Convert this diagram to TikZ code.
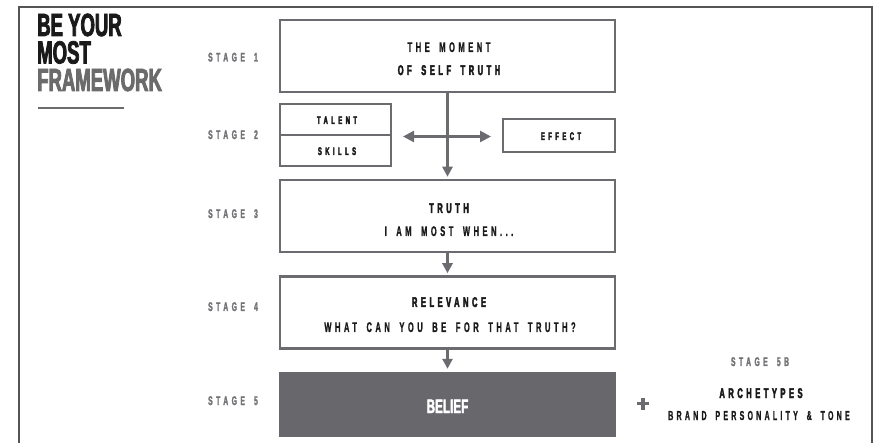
\documentclass[tikz,border=0pt]{standalone}
\usepackage{fontspec}
\usetikzlibrary{arrows.meta}
\setmainfont{Liberation Sans}
\newfontfamily\trk[FakeStretch=0.54,LetterSpace=25,WordSpace=1.7,FakeBold=1]{Liberation Sans}
\newfontfamily\trkh[FakeStretch=0.54,LetterSpace=25,WordSpace=1.7,FakeBold=3]{Liberation Sans}
\newfontfamily\trkw[FakeStretch=0.54,LetterSpace=31,WordSpace=1.7,FakeBold=3]{Liberation Sans}
\newfontfamily\stgf[FakeStretch=0.54,LetterSpace=28,WordSpace=1.7,FakeBold=2]{Liberation Sans}
\newfontfamily\ttl[FakeStretch=0.58,FakeBold=2.5]{Liberation Sans}
\newfontfamily\blf[FakeStretch=0.6,FakeBold=2]{Liberation Sans}
\definecolor{boxgrey}{HTML}{6C6B70}
\definecolor{fillgrey}{HTML}{68676C}
\definecolor{ink}{HTML}{1A1A1A}
\definecolor{stagegrey}{HTML}{737277}
\definecolor{framegrey}{HTML}{555555}
\definecolor{titlegrey}{HTML}{6B6B6B}
\tikzset{
  box/.style={draw=boxgrey, line width=2.5pt, inner sep=0pt, fill=white},
  lbl/.style={inner sep=0pt, anchor=base, text=ink, font=\trk\bfseries\fontsize{14}{16}\selectfont},
  blbl/.style={lbl, font=\trkh\bfseries\fontsize{14}{16}\selectfont},
  slbl/.style={inner sep=0pt, anchor=base, text=ink, font=\trkw\bfseries\fontsize{11}{13}\selectfont},
  stg/.style={inner sep=0pt, anchor=base, text=stagegrey, font=\stgf\bfseries\fontsize{12.5}{14}\selectfont},
  ttlstyle/.style={inner sep=0pt, anchor=base west, font=\ttl\bfseries\fontsize{32}{33}\selectfont},
  arr/.style={draw=boxgrey, line width=2.5pt, -{Triangle[length=10pt,width=10pt]}},
  darr/.style={draw=boxgrey, line width=2.5pt, {Triangle[length=11pt,width=11pt]}-{Triangle[length=11pt,width=11pt]}}
}
\begin{document}
\begin{tikzpicture}[x=1pt,y=-1pt]
\useasboundingbox (0,0) rectangle (875,443);
% frame
\draw[framegrey, line width=1.2pt] (19,443) -- (19,7) -- (872,7) -- (872,443);
% title
\node[ttlstyle, text=ink] (t1) at (37,36) {BE YOUR};
\node[ttlstyle, text=ink] (t2) at (37,63.5) {MOST};
\node[ttlstyle, text=titlegrey] (t3) at (37,91) {FRAMEWORK};
\draw[titlegrey, line width=1.2pt] (38,108) -- (124,108);
% stage labels
\node[stg] (s1) at (233,61.5) {STAGE 1};
\node[stg] (s2) at (233,139) {STAGE 2};
\node[stg] (s3) at (233,218) {STAGE 3};
\node[stg] (s4) at (233,311) {STAGE 4};
\node[stg] (s5) at (233,405) {STAGE 5};
\node[stg] (s5b) at (760,366) {STAGE 5B};
% boxes
\node[box, minimum width=335, minimum height=72] (b1) at (447.5,56) {};
\node[box, minimum width=111, minimum height=31] (tal) at (335.5,119.5) {};
\node[box, minimum width=111, minimum height=31] (ski) at (335.5,150.5) {};
\node[box, minimum width=112, minimum height=33] (eff) at (559,135.5) {};
\node[box, minimum width=335, minimum height=72] (b3) at (447.5,216) {};
\node[box, minimum width=335, minimum height=72] (b4) at (447.5,312.5) {};
\node[fill=fillgrey, inner sep=0pt, minimum width=337, minimum height=65] (bel) at (447.5,404.5) {};
% texts
\node[lbl] (x1) at (449,52) {THE MOMENT};
\node[blbl] (x2) at (449,75) {OF SELF TRUTH};
\node[slbl] (x3) at (337,124) {TALENT};
\node[slbl] (x4) at (337,155) {SKILLS};
\node[slbl] (x5) at (561,140) {EFFECT};
\node[blbl] (x6) at (449,213) {TRUTH};
\node[lbl] (x7) at (449,236) {I AM MOST WHEN...};
\node[blbl] (x8) at (449,307) {RELEVANCE};
\node[lbl] (x9) at (450,332) {WHAT CAN YOU BE FOR THAT TRUTH?};
\node[inner sep=0pt, anchor=base, text=white, font=\blf\bfseries\fontsize{19.5}{22}\selectfont] (x10) at (447.5,413) {BELIEF};
\node[blbl] (x11) at (761,398) {ARCHETYPES};
\node[lbl, font=\trk\bfseries\fontsize{13}{15}\selectfont] (x12) at (759,420) {BRAND PERSONALITY \& TONE};
% arrows
\draw[arr, shorten >=2pt] (b1.south) -- (b3.north);
\coordinate (hl) at (403,136.5);
\coordinate (hr) at (491,136.5);
\draw[darr] (hl) -- (hr);
\draw[arr, shorten >=2pt] (b3.south) -- (b4.north);
\draw[arr, shorten >=3pt] (b4.south) -- (bel.north);
% plus
\coordinate (pc) at (643,403.5);
\draw[boxgrey, line width=3.5pt] ([xshift=-6pt]pc) -- ([xshift=6pt]pc);
\draw[boxgrey, line width=3.5pt] ([yshift=-6pt]pc) -- ([yshift=6pt]pc);
\end{tikzpicture}
\end{document}
